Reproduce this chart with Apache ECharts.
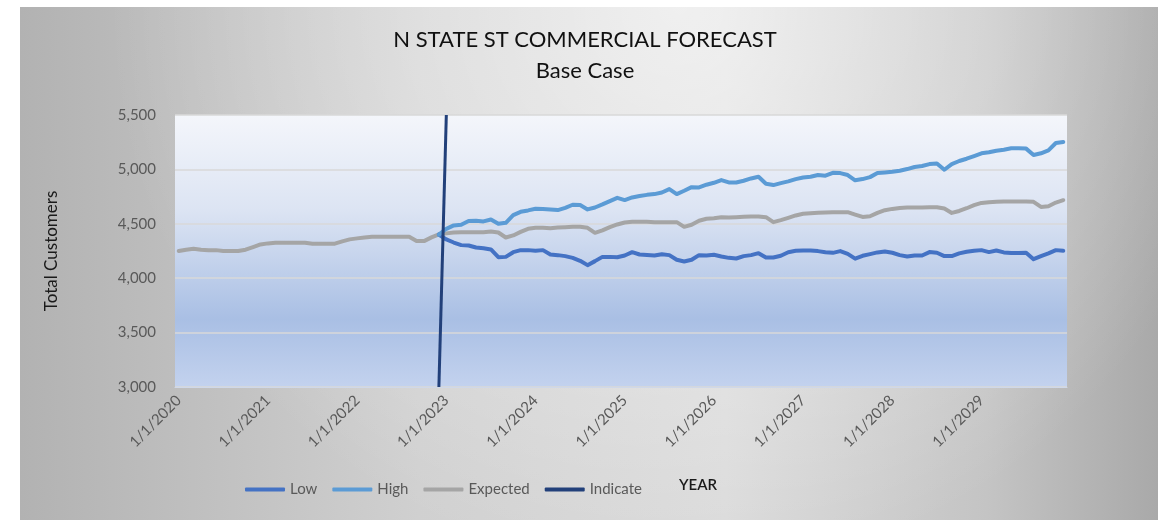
<!DOCTYPE html>
<html>
<head>
<meta charset="utf-8">
<script src="https://cdn.jsdelivr.net/npm/echarts@6/dist/echarts.min.js"></script>
<style>
  html, body { margin: 0; padding: 0; background: #ffffff; }
  #chart { width: 1170px; height: 520px; }
</style>
</head>
<body>
<div id="chart"></div>
<script>
// Monthly categories, Jan 2020 .. Dec 2029
const firstYear = 2020;
const yearCount = 10;
const categories = [];
for (let y = 0; y < yearCount; y++) {
  for (let m = 1; m <= 12; m++) categories.push(m + '/1/' + (firstYear + y));
}

// Expected customers, one value per month from 1/1/2020
const expected = [
  4250, 4262, 4270, 4262, 4258, 4258, 4250, 4250, 4250, 4262, 4286, 4310,
  4320, 4326, 4326, 4326, 4326, 4326, 4317, 4317, 4317, 4317, 4338, 4357,
  4366, 4375, 4381, 4381, 4381, 4381, 4381, 4381, 4341, 4341, 4375, 4403,
  4412, 4420, 4423, 4423, 4423, 4423, 4430, 4420, 4374, 4393, 4426, 4454,
  4463, 4463, 4460, 4466, 4469, 4472, 4472, 4463, 4417, 4439, 4469, 4494,
  4512, 4518, 4518, 4518, 4515, 4515, 4515, 4515, 4472, 4491, 4528, 4546,
  4552, 4561, 4558, 4561, 4564, 4567, 4567, 4561, 4515, 4534, 4555, 4577,
  4592, 4598, 4601, 4604, 4607, 4607, 4607, 4585, 4563, 4569, 4600, 4625,
  4637, 4646, 4649, 4649, 4649, 4652, 4652, 4640, 4600, 4618, 4643, 4671,
  4692, 4698, 4702, 4705, 4705, 4705, 4705, 4702, 4655, 4661, 4695, 4717
];

// Forecast band starts at 12/1/2022
const forecastStart = 35;
const high = [
  4400,
  4454, 4485, 4491, 4525, 4528, 4522, 4540, 4500, 4509, 4580, 4610, 4623,
  4638, 4635, 4632, 4626, 4647, 4675, 4672, 4632, 4650, 4678, 4709, 4739,
  4718, 4742, 4755, 4766, 4773, 4788, 4819, 4773, 4804, 4837, 4834, 4859,
  4877, 4902, 4880, 4880, 4896, 4917, 4933, 4868, 4856, 4874, 4890, 4911,
  4926, 4933, 4948, 4942, 4969, 4966, 4948, 4900, 4911, 4929, 4966, 4972,
  4978, 4988, 5003, 5022, 5031, 5049, 5055, 4997, 5049, 5077, 5098, 5123,
  5148, 5157, 5172, 5181, 5194, 5194, 5191, 5132, 5148, 5175, 5243, 5252
];
const low = [
  4400,
  4356, 4328, 4304, 4301, 4282, 4276, 4264, 4193, 4196, 4239, 4258, 4258,
  4252, 4258, 4218, 4212, 4203, 4187, 4160, 4120, 4157, 4196, 4196, 4193,
  4209, 4239, 4218, 4214, 4209, 4221, 4212, 4169, 4154, 4169, 4212, 4209,
  4215, 4200, 4187, 4181, 4203, 4212, 4230, 4190, 4190, 4206, 4239, 4252,
  4255, 4255, 4249, 4239, 4233, 4249, 4224, 4180, 4206, 4221, 4237, 4246,
  4234, 4212, 4200, 4209, 4209, 4240, 4234, 4203, 4203, 4228, 4243, 4252,
  4258, 4240, 4255, 4237, 4231, 4231, 4234, 4175, 4203, 4228, 4258, 4252
];

// Marker line for the start of the forecast: two points, 12/1/2022 and 1/1/2023
const indicateStart = 35;
const indicate = [3000, 5500];

// Value axis
const yMin = 3000, yMax = 5500, yStep = 500;

function pad(values, start) {
  const out = new Array(categories.length).fill(null);
  values.forEach((v, i) => { out[start + i] = v; });
  return out;
}

const FONT = 'Lato';
const chart = echarts.init(document.getElementById('chart'), null, { renderer: 'canvas' });

chart.setOption({
  backgroundColor: '#ffffff',
  animation: false,
  graphic: [
    {
      type: 'rect', z: -10, silent: true,
      shape: { x: 20, y: 7, width: 1138, height: 520 },
      style: {
        fill: new echarts.graphic.LinearGradient(0, 0, 1, 0, [
          { offset: 0, color: '#b2b2b2' },
          { offset: 0.35, color: '#d0d0d0' },
          { offset: 0.62, color: '#dadada' },
          { offset: 0.85, color: '#c4c4c4' },
          { offset: 1, color: '#a9a9a9' }
        ])
      }
    },
    {
      type: 'rect', z: -9, silent: true,
      shape: { x: 20, y: 7, width: 1138, height: 520 },
      style: {
        fill: new echarts.graphic.RadialGradient(0.58, 0, 1.1, [
          { offset: 0, color: 'rgba(255,255,255,0.6)' },
          { offset: 1, color: 'rgba(255,255,255,0)' }
        ])
      }
    },
    {
      type: 'text', left: 679, top: 478, silent: true,
      style: { text: 'YEAR', fill: '#1a1a1a', font: '600 15px ' + FONT }
    }
  ],
  title: {
    text: 'N STATE ST COMMERCIAL FORECAST\nBase Case',
    left: 'center',
    top: 24,
    padding: 0,
    textStyle: {
      fontFamily: FONT, fontSize: 22, fontWeight: 'normal',
      color: '#111111', lineHeight: 31, align: 'center'
    }
  },
  legend: {
    data: ['Low', 'High', 'Expected', 'Indicate'],
    left: 240,
    top: 477,
    icon: 'roundRect',
    itemWidth: 40,
    itemHeight: 4,
    itemGap: 15,
    textStyle: { fontFamily: FONT, fontSize: 15, color: '#595959' }
  },
  grid: {
    left: 175, right: 103, top: 115, bottom: 133,
    show: true, borderWidth: 0,
    backgroundColor: new echarts.graphic.LinearGradient(0, 0, 0, 1, [
      { offset: 0, color: '#f4f6fb' },
      { offset: 0.35, color: '#dce4f3' },
      { offset: 0.75, color: '#a9bfe4' },
      { offset: 1, color: '#c3d2ee' }
    ])
  },
  xAxis: {
    type: 'category',
    data: categories,
    boundaryGap: true,
    axisLine: { show: true, lineStyle: { color: '#d0d8e8', width: 1 } },
    axisTick: { show: false },
    splitLine: { show: false },
    axisLabel: {
      interval: 11,
      rotate: 45,
      margin: 11,
      fontFamily: FONT, fontSize: 15, color: '#595959'
    }
  },
  yAxis: {
    type: 'value',
    min: yMin, max: yMax, interval: yStep,
    name: 'Total Customers',
    nameLocation: 'middle',
    nameGap: 115,
    nameTextStyle: { fontFamily: FONT, fontSize: 17, color: '#1a1a1a' },
    axisLine: { show: false },
    axisTick: { show: false },
    axisLabel: {
      margin: 19,
      fontFamily: FONT, fontSize: 15, color: '#595959',
      formatter: v => v.toLocaleString('en-US')
    },
    splitLine: { show: true, lineStyle: { color: '#d9d9d9', width: 1.5 } }
  },
  series: [
    {
      name: 'Expected', type: 'line', data: expected,
      showSymbol: false, symbol: 'none',
      lineStyle: { color: '#a5a5a5', width: 4, join: 'round', cap: 'round' },
      itemStyle: { color: '#a5a5a5' }, z: 2
    },
    {
      name: 'Low', type: 'line', data: pad(low, forecastStart),
      showSymbol: false, symbol: 'none',
      lineStyle: { color: '#4472c4', width: 4, join: 'round', cap: 'round' },
      itemStyle: { color: '#4472c4' }, z: 3
    },
    {
      name: 'High', type: 'line', data: pad(high, forecastStart),
      showSymbol: false, symbol: 'none',
      lineStyle: { color: '#5b9bd5', width: 4, join: 'round', cap: 'round' },
      itemStyle: { color: '#5b9bd5' }, z: 3
    },
    {
      name: 'Indicate', type: 'line', data: pad(indicate, indicateStart),
      showSymbol: false, symbol: 'none',
      lineStyle: { color: '#22407a', width: 3 },
      itemStyle: { color: '#22407a' }, z: 4
    }
  ]
});
</script>
</body>
</html>
